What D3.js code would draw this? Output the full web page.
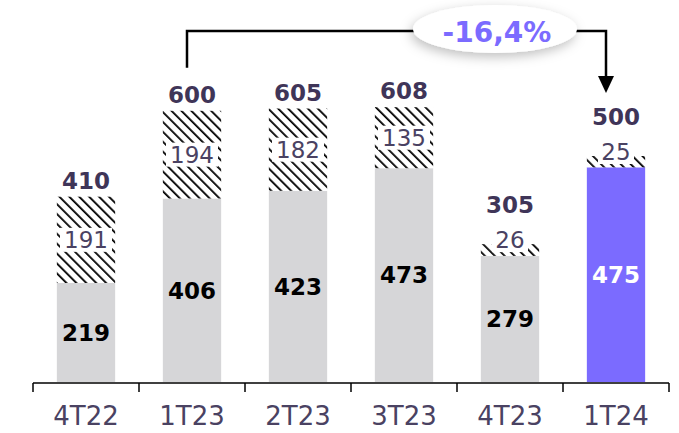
<!DOCTYPE html>
<html>
<head>
<meta charset="utf-8">
<script src="https://cdn.jsdelivr.net/npm/d3@7"></script>
<style>
  body { margin: 0; background: #fff; }
  text { font-family: "DejaVu Sans", Verdana, sans-serif; }
</style>
</head>
<body>
<script>
var categories = ["4T22", "1T23", "2T23", "3T23", "4T23", "1T24"];
var baseValues = [219, 406, 423, 473, 279, 475];
var hatchValues = [191, 194, 182, 135, 26, 25];
var totalValues = [410, 600, 605, 608, 305, 500];
var changeLabel = "-16,4%";

var W = 679, H = 433;
var svg = d3.select("body").append("svg").attr("width", W).attr("height", H);

var x = d3.scaleBand().domain(categories).range([33, 669]).paddingInner(0.45).paddingOuter(0.225);
var y = d3.scaleLinear().domain([0, 700]).range([382, 382 - 700 * 0.452]);

var defs = svg.append("defs");
var pat = defs.append("pattern").attr("id", "hatch")
    .attr("patternUnits", "userSpaceOnUse").attr("width", 7).attr("height", 7)
    .attr("patternTransform", "rotate(-45)");
pat.append("rect").attr("width", 7).attr("height", 7).attr("fill", "#fff");
pat.append("line").attr("x1", 0).attr("y1", 0).attr("x2", 0).attr("y2", 7)
    .attr("stroke", "#000").attr("stroke-width", 3.6);

var shadow = defs.append("filter").attr("id", "glow").attr("x", "-30%").attr("y", "-60%").attr("width", "160%").attr("height", "220%");
shadow.append("feDropShadow").attr("dx", -2).attr("dy", 4).attr("stdDeviation", 6).attr("flood-color", "#000").attr("flood-opacity", 0.25);

var last = categories.length - 1;

function hatchLabelY(i){
    var top = y(baseValues[i] + hatchValues[i]), bot = y(baseValues[i]);
    return (bot - top) < 20 ? top - 4 : (top + bot) / 2;
}

// gray / purple base bars
svg.selectAll("rect.base")
    .data(baseValues)
    .enter().append("rect")
        .attr("class", "base")
        .attr("x", function(d, i){ return x(categories[i]); })
        .attr("y", function(d){ return y(d); })
        .attr("width", x.bandwidth())
        .attr("height", function(d){ return y(0) - y(d); })
        .attr("fill", function(d, i){ return i == last ? "#7b6bff" : "#d6d6d8"; });

// hatched bars on top
svg.selectAll("rect.hatch")
    .data(hatchValues)
    .enter().append("rect")
        .attr("class", "hatch")
        .attr("x", function(d, i){ return x(categories[i]); })
        .attr("y", function(d, i){ return y(baseValues[i] + d); })
        .attr("width", x.bandwidth())
        .attr("height", function(d, i){ return y(baseValues[i]) - y(baseValues[i] + d); })
        .attr("fill", "url(#hatch)");

// axis
var axis = svg.append("g").attr("transform", "translate(0,383)");
axis.append("line").attr("x1", 33).attr("x2", 669).attr("stroke", "#000").attr("stroke-width", 1.5);
var ticks = categories.map(function(c){ return x(c) - x.step() * x.paddingInner() / 2; });
ticks.push(669);
axis.selectAll("line.tick")
    .data(ticks)
    .enter().append("line")
        .attr("class", "tick")
        .attr("x1", function(d){ return d; }).attr("x2", function(d){ return d; })
        .attr("y1", 0).attr("y2", 9)
        .attr("stroke", "#000").attr("stroke-width", 1.5);
axis.selectAll("text.cat")
    .data(categories)
    .enter().append("text")
        .attr("class", "cat")
        .attr("x", function(d){ return x(d) + x.bandwidth() / 2; })
        .attr("y", 42)
        .attr("text-anchor", "middle")
        .attr("font-size", 26)
        .attr("fill", "#4a4262")
        .text(function(d){ return d; });

// hatched value labels with white box
var hl = svg.selectAll("g.hlab")
    .data(hatchValues)
    .enter().append("g")
        .attr("class", "hlab")
        .attr("transform", function(d, i){
            return "translate(" + (x(categories[i]) + x.bandwidth() / 2) + "," + hatchLabelY(i) + ")";
        });
hl.append("rect")
    .attr("x", function(d){ return d > 99 ? -26 : -18; })
    .attr("width", function(d){ return d > 99 ? 52 : 36; })
    .attr("y", -12).attr("height", 24)
    .attr("fill", "#fff");
hl.append("text")
    .attr("text-anchor", "middle")
    .attr("dy", "0.36em")
    .attr("font-size", 23)
    .attr("fill", "#4a4262")
    .text(function(d){ return d; });

// base value labels
svg.selectAll("text.blab")
    .data(baseValues)
    .enter().append("text")
        .attr("class", "blab")
        .attr("x", function(d, i){ return x(categories[i]) + x.bandwidth() / 2; })
        .attr("y", function(d){ return (y(0) + y(d)) / 2; })
        .attr("dy", "0.36em")
        .attr("text-anchor", "middle")
        .attr("font-size", 23)
        .attr("font-weight", "bold")
        .attr("fill", function(d, i){ return i == last ? "#fff" : "#000"; })
        .text(function(d){ return d; });

// totals
svg.selectAll("text.tlab")
    .data(totalValues)
    .enter().append("text")
        .attr("class", "tlab")
        .attr("x", function(d, i){ return x(categories[i]) + x.bandwidth() / 2; })
        .attr("y", function(d, i){
            var top = y(d);
            if (top - hatchLabelY(i) > 0) return hatchLabelY(i) - 27;
            return top - 8;
        })
        .attr("text-anchor", "middle")
        .attr("font-size", 23)
        .attr("font-weight", "bold")
        .attr("fill", "#3f3558")
        .text(function(d){ return d; });

// change connector
var xa = x(categories[1]) + x.bandwidth() / 2 - 5;
var xb = x(categories[last]) + x.bandwidth() / 2 - 10;
var lineY = 31;
svg.append("path")
    .attr("d", "M" + xa + "," + (y(totalValues[1]) - 43) + "V" + lineY + "H" + xb + "V" + 78)
    .attr("fill", "none").attr("stroke", "#000").attr("stroke-width", 2.5);
svg.append("path")
    .attr("d", "M" + (xb - 8) + ",76L" + (xb + 8) + ",76L" + xb + ",93Z")
    .attr("fill", "#000");

var ex = 495;
svg.append("ellipse")
    .attr("cx", ex).attr("cy", 29).attr("rx", 82).attr("ry", 24)
    .attr("fill", "#fff").attr("filter", "url(#glow)");
svg.append("text")
    .attr("x", ex + 2).attr("y", 32)
    .attr("dy", "0.36em")
    .attr("text-anchor", "middle")
    .attr("font-size", 28)
    .attr("font-weight", "bold")
    .attr("fill", "#7b6bff")
    .text(changeLabel);
</script>
</body>
</html>
